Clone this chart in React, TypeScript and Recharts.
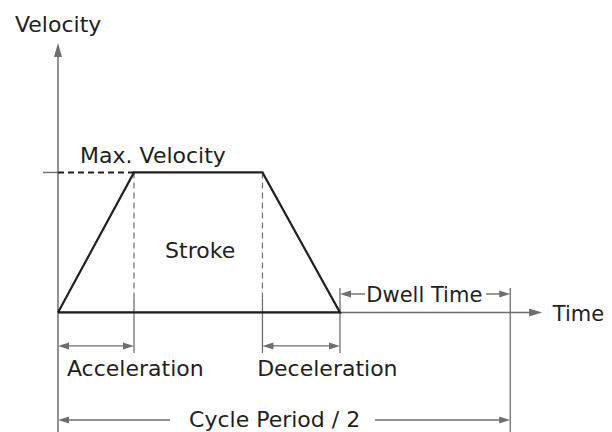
import React from "react";
import { ComposedChart, Line, XAxis, YAxis, ReferenceLine, ReferenceDot } from "recharts";

// Trapezoidal velocity profile (time in arbitrary units, velocity normalised to max = 1)
const profileTime = [0, 1, 2.69, 3.71, 0];
const profileVelocity = [0, 1, 1, 0, 0];

const ACCEL_END = 1;
const DECEL_START = 2.69;
const STOP = 3.71;
const CYCLE_END = 5.95;
const MAX_V = 1;

const labelTexts = ["Velocity", "Max. Velocity", "Stroke", "Dwell Time", "Time", "Acceleration", "Deceleration", "Cycle Period / 2"];
const labelTimes = [-0.566, 1.25, 1.87, 4.82, 6.51, 0.118, 2.62, 2.85];
const labelVels = [2.004, 1.068, 0.389, 0.075, -0.061, -0.454, -0.454, -0.818];
const labelAnchors = ["start", "middle", "middle", "middle", "start", "start", "start", "middle"];

const data = profileTime.map((t, i) => ({ t, v: profileVelocity[i] }));

const GRAY = "#6d6e71";
const INK = "#231f20";
const FONT = "'DejaVu Sans', sans-serif";

function arrowShape(start: boolean, end: boolean, len = 11, hw = 3.5, dash?: string, width = 1.4) {
  return (p: any) => {
    const { x1, y1, x2, y2 } = p;
    const dx = x2 - x1;
    const dy = y2 - y1;
    const L = Math.sqrt(dx * dx + dy * dy) || 1;
    const ux = dx / L;
    const uy = dy / L;
    const px = -uy;
    const py = ux;
    const head = (tx: number, ty: number, dirx: number, diry: number) => {
      const bx = tx - dirx * len;
      const by = ty - diry * len;
      return `${tx},${ty} ${bx + px * hw},${by + py * hw} ${bx - px * hw},${by - py * hw}`;
    };
    const sx = start ? x1 + ux * (len - 1) : x1;
    const sy = start ? y1 + uy * (len - 1) : y1;
    const ex = end ? x2 - ux * (len - 1) : x2;
    const ey = end ? y2 - uy * (len - 1) : y2;
    return (
      <g>
        <line x1={sx} y1={sy} x2={ex} y2={ey} stroke={GRAY} strokeWidth={width} strokeDasharray={dash} />
        {start && <polygon points={head(x1, y1, -ux, -uy)} fill={GRAY} />}
        {end && <polygon points={head(x2, y2, ux, uy)} fill={GRAY} />}
      </g>
    );
  };
}

function textShape(text: string, anchor: string, size = 22) {
  return (p: any) => (
    <text x={p.cx} y={p.cy} textAnchor={anchor as any} fontFamily={FONT} fontSize={size} fill={INK}>
      {text}
    </text>
  );
}

const seg = (a: [number, number], b: [number, number]) => [
  { x: a[0], y: a[1] },
  { x: b[0], y: b[1] },
];

export default function App() {
  return (
    <div style={{ position: "absolute", left: 0, top: 0, width: 612, height: 432, background: "#fff" }}>
      <ComposedChart width={612} height={432} data={data} margin={{ top: 0, right: 0, bottom: 0, left: 0 }}>
        <XAxis type="number" dataKey="t" domain={[-0.763, 7.289]} hide allowDataOverflow />
        <YAxis type="number" domain={[-0.854, 2.232]} hide allowDataOverflow />

        {/* axes */}
        <ReferenceLine segment={seg([0, -0.854], [0, 1.925])} shape={arrowShape(false, true, 14, 4, undefined, 1.5)} />
        <ReferenceLine segment={seg([0, 0], [6.37, 0])} shape={arrowShape(false, true, 13, 4, undefined, 1.5)} />

        {/* max velocity marker */}
        <ReferenceLine segment={seg([-0.197, MAX_V], [0, MAX_V])} shape={arrowShape(false, false, 0, 0, undefined, 1.4)} />
        <ReferenceLine segment={seg([0, MAX_V], [ACCEL_END, MAX_V])} stroke={INK} strokeWidth={2} strokeDasharray="6 4" />

        {/* vertical guides */}
        <ReferenceLine segment={seg([ACCEL_END, MAX_V], [ACCEL_END, 0.1])} shape={arrowShape(false, false, 0, 0, "6 4", 1.2)} />
        <ReferenceLine segment={seg([ACCEL_END, 0.1], [ACCEL_END, -0.289])} shape={arrowShape(false, false, 0, 0, undefined, 1.3)} />
        <ReferenceLine segment={seg([DECEL_START, MAX_V], [DECEL_START, 0.1])} shape={arrowShape(false, false, 0, 0, "6 4", 1.2)} />
        <ReferenceLine segment={seg([DECEL_START, 0.1], [DECEL_START, -0.289])} shape={arrowShape(false, false, 0, 0, undefined, 1.3)} />
        <ReferenceLine segment={seg([STOP, 0.175], [STOP, -0.289])} shape={arrowShape(false, false, 0, 0, undefined, 1.3)} />
        <ReferenceLine segment={seg([CYCLE_END, 0.175], [CYCLE_END, -0.854])} shape={arrowShape(false, false, 0, 0, undefined, 1.3)} />

        {/* dimension arrows */}
        <ReferenceLine segment={seg([0, -0.239], [ACCEL_END, -0.239])} shape={arrowShape(true, true)} />
        <ReferenceLine segment={seg([DECEL_START, -0.239], [STOP, -0.239])} shape={arrowShape(true, true)} />
        <ReferenceLine segment={seg([STOP, 0.132], [4.04, 0.132])} shape={arrowShape(true, false)} />
        <ReferenceLine segment={seg([5.63, 0.132], [CYCLE_END, 0.132])} shape={arrowShape(false, true)} />
        <ReferenceLine segment={seg([0, -0.768], [1.474, -0.768])} shape={arrowShape(true, false)} />
        <ReferenceLine segment={seg([4.17, -0.768], [CYCLE_END, -0.768])} shape={arrowShape(false, true)} />

        {/* velocity profile */}
        <Line
          type="linear"
          dataKey="v"
          stroke={INK}
          strokeWidth={2.2}
          dot={false}
          activeDot={false}
          isAnimationActive={false}
          strokeLinejoin="miter"
        />

        {/* labels */}
        {labelTexts.map((txt, i) => (
          <ReferenceDot
            key={txt}
            x={labelTimes[i]}
            y={labelVels[i]}
            r={0}
            shape={textShape(txt, labelAnchors[i], txt === "Dwell Time" || txt === "Time" ? 21 : 22)}
          />
        ))}
      </ComposedChart>
    </div>
  );
}
